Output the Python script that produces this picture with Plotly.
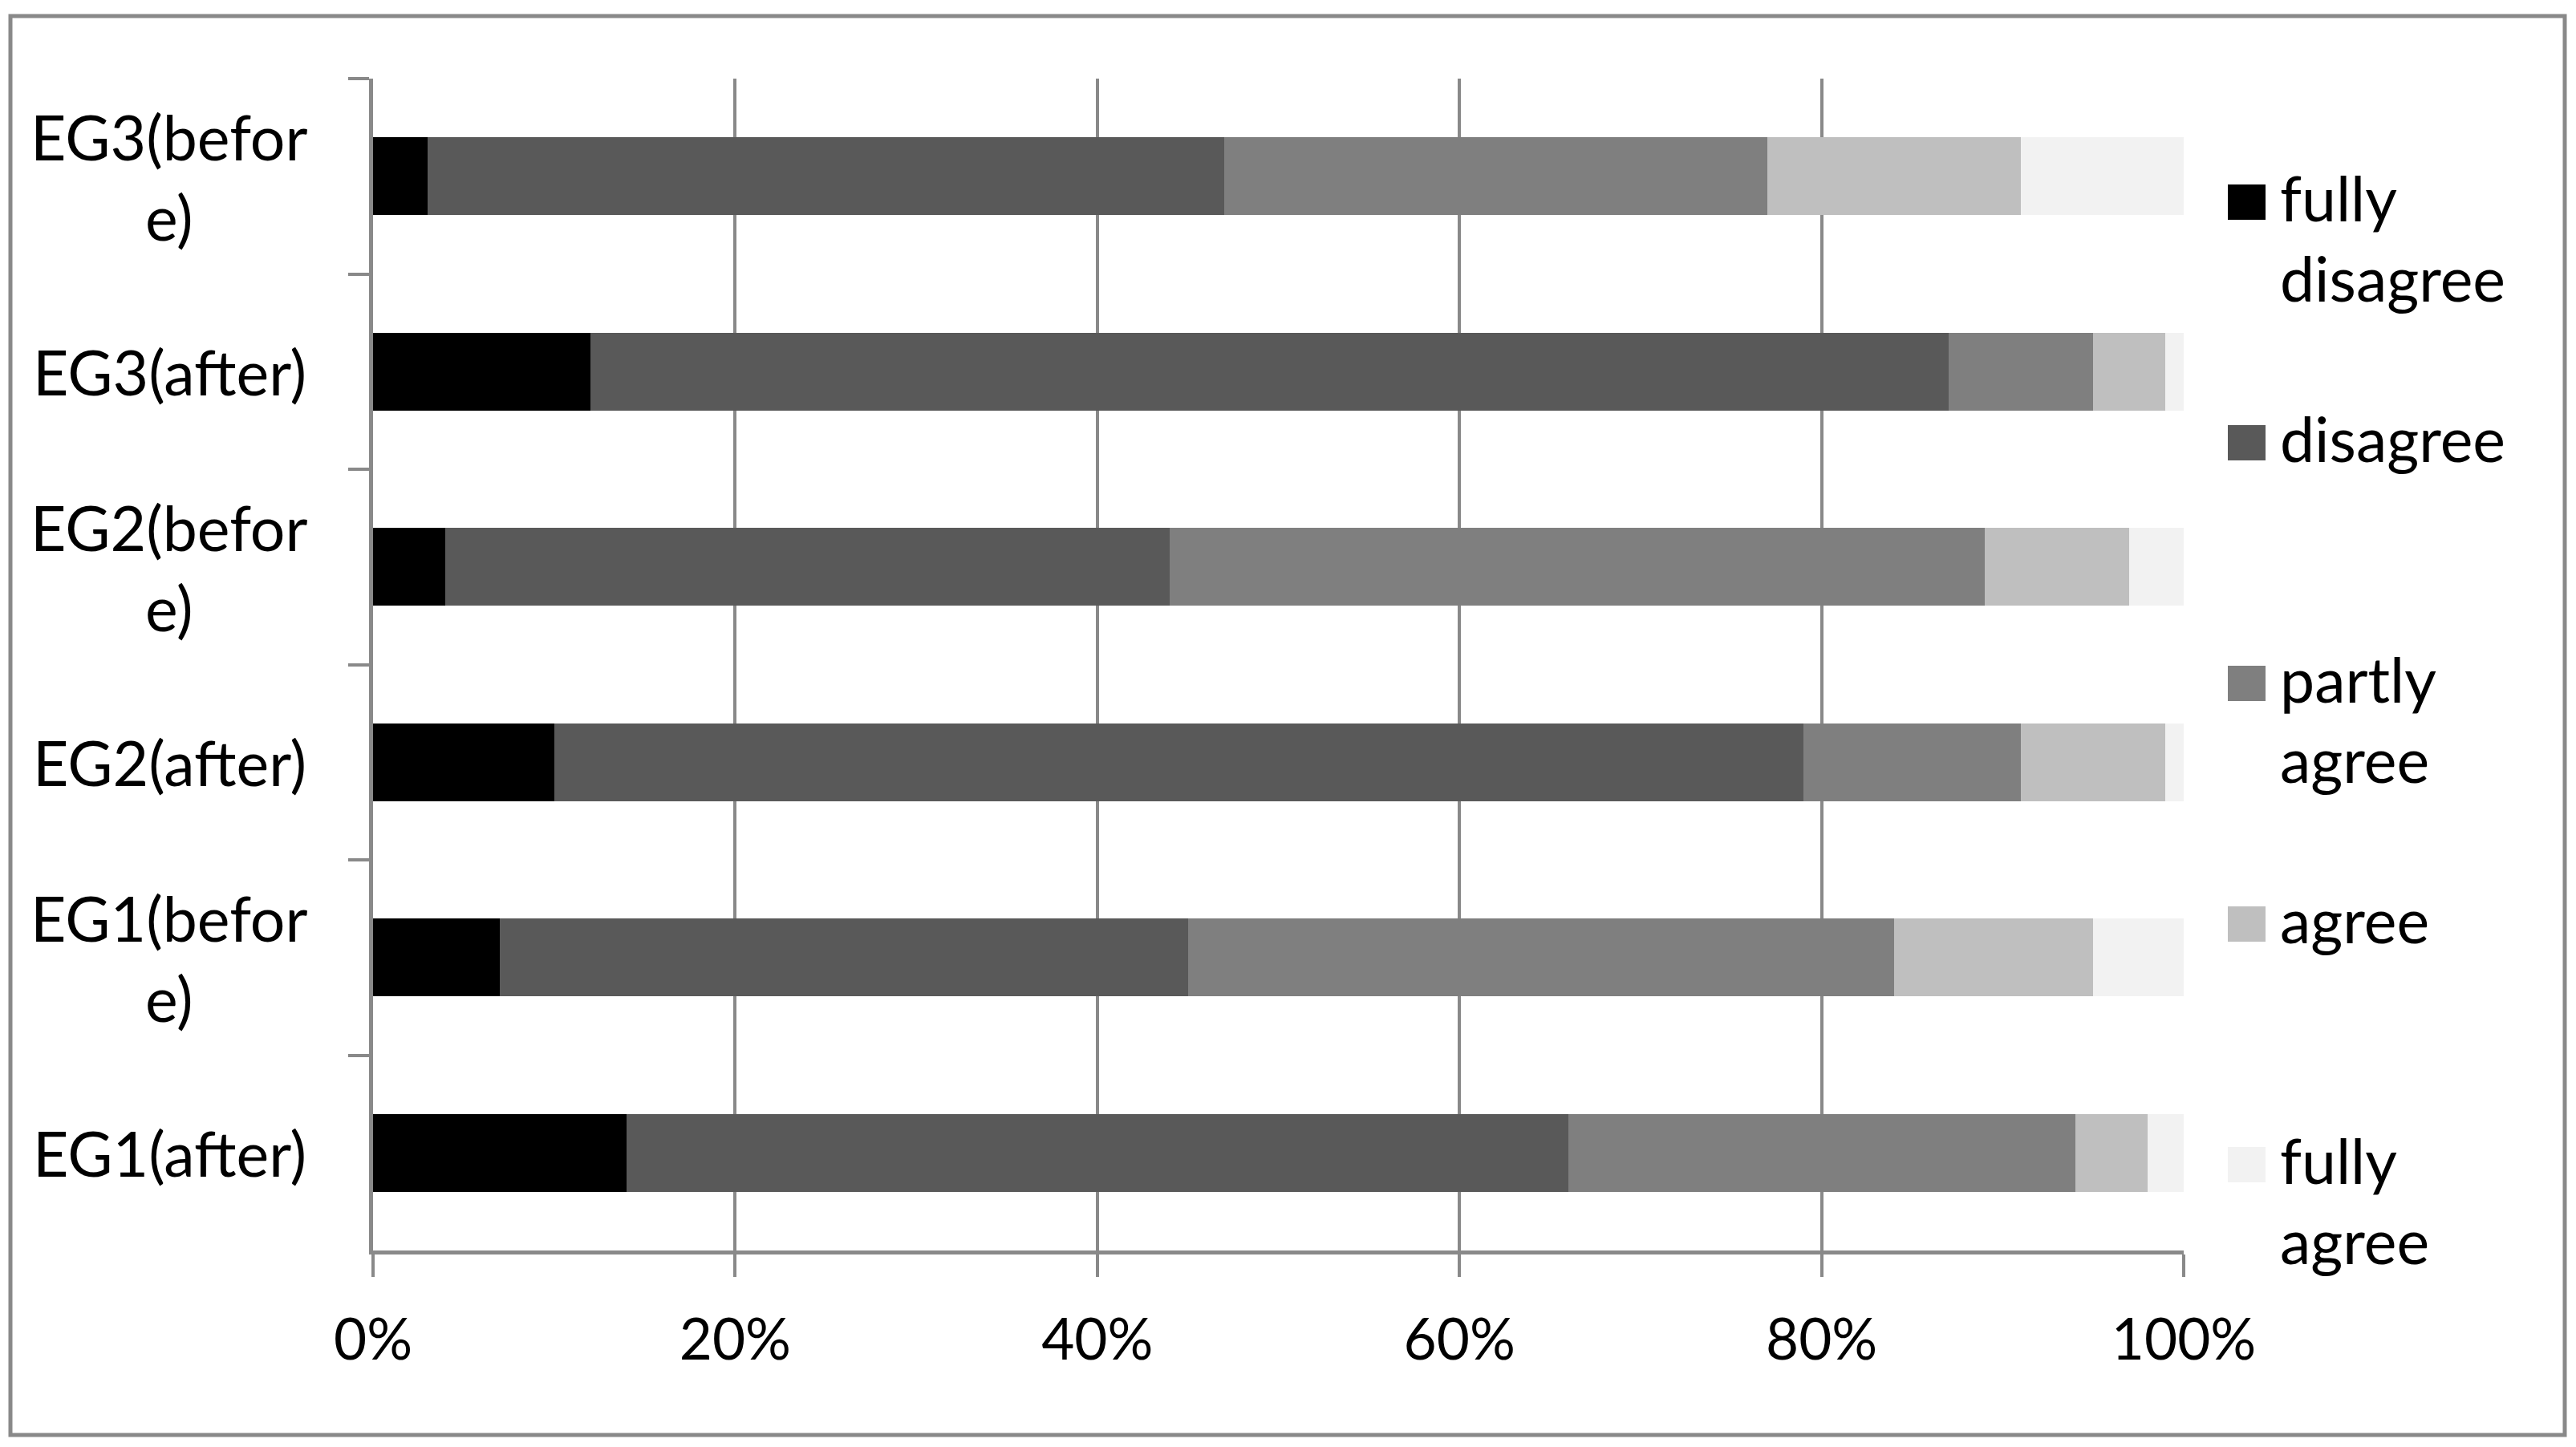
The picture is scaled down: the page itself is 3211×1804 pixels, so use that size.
import plotly.graph_objects as go

# categories, top to bottom as drawn
groups = ['EG3(before)', 'EG3(after)', 'EG2(before)', 'EG2(after)', 'EG1(before)', 'EG1(after)']
group_labels = ['EG3(befor<br>e)', 'EG3(after)', 'EG2(befor<br>e)', 'EG2(after)', 'EG1(befor<br>e)', 'EG1(after)']

# percentages
fully_disagree = [3, 12, 4, 10, 7, 14]
disagree = [44, 75, 40, 69, 38, 52]
partly_agree = [30, 8, 45, 12, 39, 28]
agree = [14, 4, 8, 8, 11, 4]
fully_agree = [9, 1, 3, 1, 5, 2]

series_names = ['fully disagree', 'disagree', 'partly agree', 'agree', 'fully agree']
legend_text = ['fully<br>disagree', 'disagree', 'partly<br>agree', 'agree', 'fully<br>agree']
series_values = [fully_disagree, disagree, partly_agree, agree, fully_agree]
colors = ['#000000', '#595959', '#7f7f7f', '#bfbfbf', '#f2f2f2']

W, H = 3211, 1804
OFF = 8  # page body margin around the plot div
L, R, T, B = 457, 497, 90, 253
PW, PH = W - L - R, H - T - B
GRID = '#898989'
FONT = 'Lato'
FS = 77


def px_x(x):
    # page pixel -> paper coordinate
    return (x - OFF - L) / PW


def px_y(y):
    return (H - B - (y - OFF)) / PH


fig = go.Figure()
for name, vals, col in zip(series_names, series_values, colors):
    fig.add_trace(go.Bar(
        y=groups,
        x=vals,
        name=name,
        orientation='h',
        marker=dict(color=col, line=dict(width=0)),
        showlegend=False,
    ))

fig.update_layout(
    width=W, height=H,
    barmode='stack',
    barnorm='percent',
    bargap=0.6,
    plot_bgcolor='white',
    paper_bgcolor='white',
    margin=dict(l=L, r=R, t=T, b=B),
    font=dict(family=FONT, size=FS, color='black'),
)

fig.update_xaxes(
    range=[0, 100], dtick=20, ticksuffix='%',
    showgrid=True, gridcolor=GRID, gridwidth=4,
    zeroline=False,
    showline=True, linecolor=GRID, linewidth=5,
    ticks='outside', ticklen=28, tickwidth=4, tickcolor=GRID,
    ticklabelstandoff=18,
    tickfont=dict(family=FONT, size=71, color='black'),
)
fig.update_yaxes(
    type='category', autorange='reversed',
    tickson='boundaries', ticks='outside', ticklen=26, tickwidth=4, tickcolor=GRID,
    showline=True, linecolor=GRID, linewidth=5,
    showgrid=False, showticklabels=False,
)

# category labels, centred like the original
for g, lab in zip(groups, group_labels):
    fig.add_annotation(
        x=px_x(211), xref='paper', y=g, yref='y',
        text=lab, showarrow=False, align='center',
        xanchor='center', yanchor='middle',
        font=dict(family=FONT, size=FS, color='black'),
    )

# legend drawn with shapes so the keys have the original size
for i, (txt, col) in enumerate(zip(legend_text, colors)):
    cy = 252 + 300 * i
    fig.add_shape(
        type='rect', xref='paper', yref='paper',
        x0=px_x(2777), x1=px_x(2824), y0=px_y(cy + 22), y1=px_y(cy - 22),
        fillcolor=col, line=dict(width=0),
    )
    fig.add_annotation(
        x=px_x(2840), xref='paper', y=px_y(cy - 54), yref='paper',
        text=txt, showarrow=False, align='left',
        xanchor='left', yanchor='top',
        font=dict(family=FONT, size=FS, color='black'),
    )

# outer chart border
fig.add_shape(
    type='rect', xref='paper', yref='paper',
    x0=px_x(13), x1=px_x(3197), y0=px_y(1789), y1=px_y(20),
    line=dict(color=GRID, width=5), fillcolor='rgba(0,0,0,0)', layer='below',
)

fig.write_html('out.html')
